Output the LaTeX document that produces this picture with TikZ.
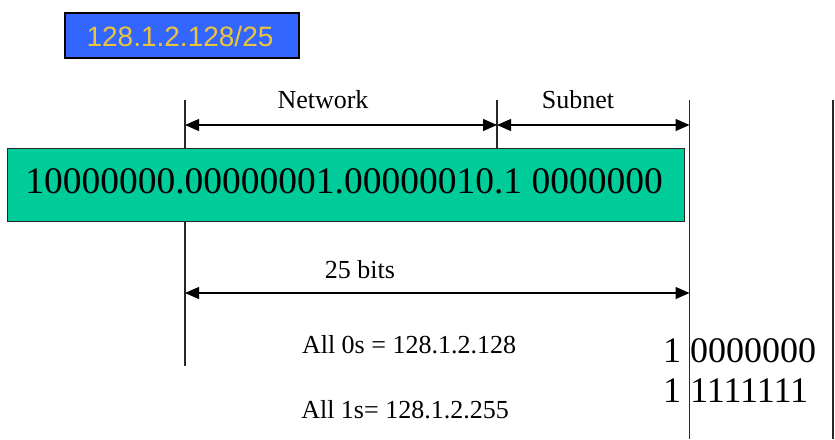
\documentclass[tikz,border=0pt]{standalone}
\usepackage{fontspec}
\setmainfont{Liberation Serif}
\newfontfamily\blsans{Liberation Sans}
\usetikzlibrary{arrows.meta}
\definecolor{boxblue}{RGB}{51,102,255}
\definecolor{gold}{RGB}{236,196,60}
\definecolor{teal}{RGB}{0,204,153}
\definecolor{linegray}{RGB}{40,40,40}
\begin{document}
\begin{tikzpicture}[x=1pt,y=-1pt,
  guide/.style={draw=linegray,line width=1.3pt},
  dimarrow/.style={draw=black,line width=1.2pt,{Triangle[length=14pt,width=12pt]}-{Triangle[length=14pt,width=12pt]}},
  lbl/.style={font=\fontsize{26}{26}\selectfont,inner sep=0pt,anchor=base},
  bignum/.style={font=\fontsize{36}{36}\selectfont,inner sep=0pt}]
\useasboundingbox (0,0) rectangle (835,439);
% guide lines
\coordinate (L1) at (185,100); \coordinate (L2) at (185,366);
\coordinate (M1) at (497,100); \coordinate (M2) at (497,148);
\coordinate (R1) at (689.5,100); \coordinate (R2) at (689.5,439);
\coordinate (F1) at (833,100); \coordinate (F2) at (833,439);
\draw[guide] (L1) -- (L2);
\draw[guide] (M1) -- (M2);
\draw[guide] (R1) -- (R2);
\draw[guide] (F1) -- (F2);
% arrows
\coordinate (aL) at (185,125); \coordinate (aM) at (497,125); \coordinate (aR) at (689.5,125);
\coordinate (bL) at (185,293); \coordinate (bR) at (689.5,293);
\draw[dimarrow] (aL) -- (aM);
\draw[dimarrow] (aM) -- (aR);
\draw[dimarrow] (bL) -- (bR);
% blue box
\node[draw=black,line width=1.5pt,fill=boxblue,minimum width=234pt,minimum height=45pt,inner sep=0pt,anchor=north west] (blue) at (64,12) {};
\node[font=\blsans\fontsize{28}{28}\selectfont,text=gold,inner sep=0pt,anchor=base] (bluetxt) at (180,46) {128.1.2.128/25};
% green box
\node[draw=linegray,line width=1pt,fill=teal,minimum width=677pt,minimum height=73pt,inner sep=0pt,anchor=north west] (green) at (7,148) {};
\node[font=\fontsize{37.5}{37.5}\selectfont,inner sep=0pt,anchor=base] (bits) at (344,193) {10000000.00000001.00000010.1 0000000};
% labels
\node[lbl] (net) at (323,108) {Network};
\node[lbl] (sub) at (578,108) {Subnet};
\node[lbl] (b25) at (360,278) {25 bits};
\node[lbl] (all0) at (409,353) {All 0s = 128.1.2.128};
\node[lbl] (all1) at (405,418) {All 1s= 128.1.2.255};
\node[bignum,anchor=base west] (r0) at (663,362) {1 0000000};
\node[bignum,anchor=base west] (r1) at (663,402) {1 1111111};
\end{tikzpicture}
\end{document}
